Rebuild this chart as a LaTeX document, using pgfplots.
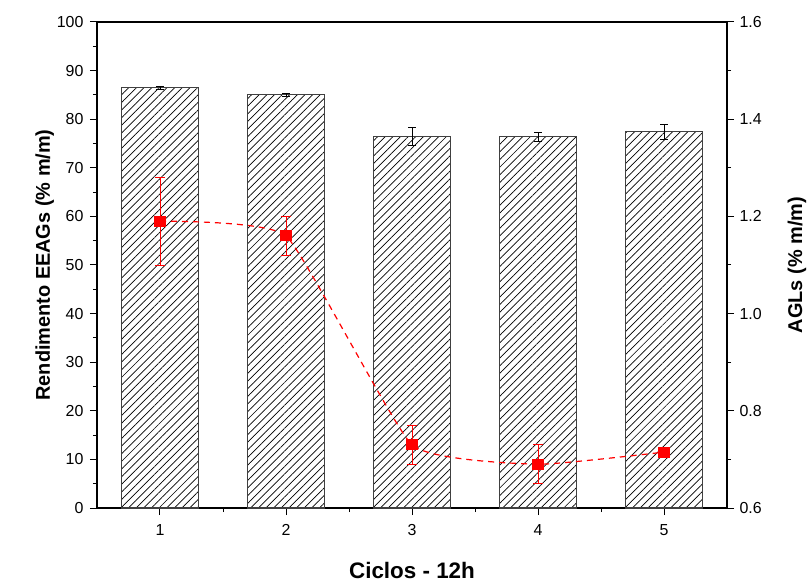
\documentclass[border=0pt]{standalone}
\usepackage{pgfplots}
\pgfplotsset{compat=1.18}
\usepackage{fontspec}
\setmainfont{Liberation Sans}
\usetikzlibrary{patterns.meta}

\begin{document}
\begin{tikzpicture}
\pgfplotsset{
  every axis/.append style={
    width=630bp, height=486bp, scale only axis,
    xmin=0.5, xmax=5.5,
    tick align=outside,
    major tick length=7bp, minor tick length=4bp,
    every tick/.style={black, line width=1bp},
    axis line style={line width=1.4bp},
    tick label style={font=\fontsize{16}{19}\selectfont},
    label style={font=\bfseries\fontsize{20}{24}\selectfont, inner sep=0pt},
    /pgf/number format/assume math mode=true,
  },
}
% eixo esquerdo: barras
\begin{axis}[
    name=main,
    ymin=0, ymax=100,
    xtick={1,2,3,4,5}, minor xtick={1.5,2.5,3.5,4.5},
    ytick={0,10,...,100}, minor ytick={5,15,...,95},
    xtick pos=bottom, ytick pos=left,
    xticklabel style={yshift=-6bp},
    yticklabel style={xshift=-3bp},
    xlabel={Ciclos - 12h},
    ylabel={Rendimento EEAGs (\% m/m)},
    xlabel style={at={(axis description cs:0.5,-0.128)}, anchor=center,
                  font=\bfseries\fontsize{22.5}{26}\selectfont},
    ylabel style={at={(axis description cs:-0.083,0.5)}, anchor=center},
]
\addplot[ybar, bar width=0.61, draw=black!75, line width=1.1bp, fill=white,
    postaction={pattern={Lines[angle=45,distance=5.4bp,line width=0.7bp]}, pattern color=black},
    error bars/.cd, y dir=both, y explicit,
    error bar style={black, line width=0.8bp},
    error mark options={rotate=90, mark size=4bp, black, line width=0.8bp}]
coordinates {
 (1,86.5) +- (0,0.3)
 (2,85.0) +- (0,0.3)
 (3,76.5) +- (0,1.8)
 (4,76.4) +- (0,0.9)
 (5,77.4) +- (0,1.5)
};
\end{axis}
% eixo direito: AGLs
\begin{axis}[
    ymin=0.6, ymax=1.6,
    axis x line=none,
    axis y line*=right,
    ytick={0.6,0.8,...,1.6}, minor ytick={0.7,0.9,...,1.5},
    yticklabel style={xshift=2bp, /pgf/number format/.cd, fixed, fixed zerofill, precision=1},
    ylabel={AGLs (\% m/m)},
    ylabel style={at={(axis description cs:1.111,0.5)}, anchor=center},
]
\addplot[red, line width=1.2bp, dash pattern=on 6bp off 5bp, smooth, tension=0.25,
    mark=square*, mark size=5bp, mark options={solid},
    error bars/.cd, y dir=both, y explicit,
    error bar style={red, solid, line width=0.7bp},
    error mark options={rotate=90, mark size=5bp, red, solid, line width=0.7bp}]
coordinates {
 (1,1.19) +- (0,0.09)
 (2,1.16) +- (0,0.04)
 (3,0.73) +- (0,0.04)
 (4,0.69) +- (0,0.04)
 (5,0.715) +- (0,0.0)
};
\end{axis}
\path ([yshift=22bp]main.north) ([xshift=-97bp]main.west) ([xshift=83bp]main.east)
      ([yshift=-75bp]main.south);
\end{tikzpicture}
\end{document}
